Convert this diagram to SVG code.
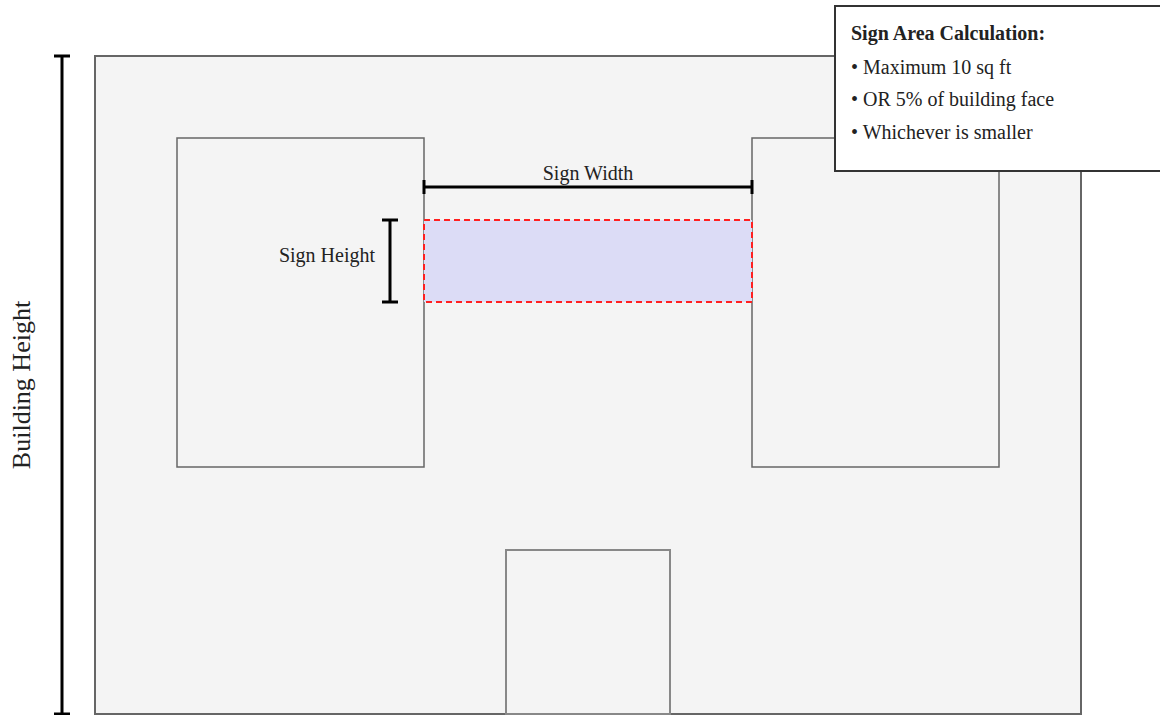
<svg xmlns="http://www.w3.org/2000/svg" width="1160" height="715" viewBox="0 0 1160 715">
<style>
text{font-family:"Liberation Serif","Times New Roman",serif;fill:#222}
.dim{stroke:#000;stroke-width:3;fill:none}
.win{fill:#f4f4f4;stroke:#666;stroke-width:1.5}
</style>
<rect width="1160" height="715" fill="#fff"/>
<g id="building"><rect x="95" y="56" width="986" height="658" fill="#f4f4f4" stroke="#666" stroke-width="2"/></g>
<g id="window-left"><rect class="win" x="177" y="138" width="247" height="329"/></g>
<g id="window-right"><rect class="win" x="752" y="138" width="247" height="329"/></g>
<g id="door"><rect x="506" y="550" width="164" height="164" fill="#f4f4f4" stroke="#888" stroke-width="2"/></g>
<g id="sign"><rect x="424" y="220" width="328" height="82" fill="#dcdcf6" stroke="#ff2020" stroke-width="2" stroke-dasharray="6,4"/></g>
<g id="connectors">
<g id="sign-width-dim"><path class="dim" d="M424 187H752M424 180V194M752 180V194"/><text x="588" y="180" font-size="20" text-anchor="middle">Sign Width</text></g>
<g id="sign-height-dim"><path class="dim" d="M390 220V302M382 220H398M382 302H398"/><text x="375" y="262" font-size="20" text-anchor="end">Sign Height</text></g>
<g id="building-height-dim"><path class="dim" d="M62 56V714M54 56H70M54 714H70"/><text transform="translate(30,385) rotate(-90)" font-size="26" text-anchor="middle">Building Height</text></g>
</g>
<g id="info-box">
<rect x="835" y="6" width="330" height="165" fill="#fff" stroke="#333" stroke-width="2"/>
<text x="851" y="40" font-size="20" font-weight="bold">Sign Area Calculation:</text>
<text x="851" y="74" font-size="20">• Maximum 10 sq ft</text>
<text x="851" y="106" font-size="20">• OR 5% of building face</text>
<text x="851" y="139" font-size="20">• Whichever is smaller</text>
</g>
</svg>
